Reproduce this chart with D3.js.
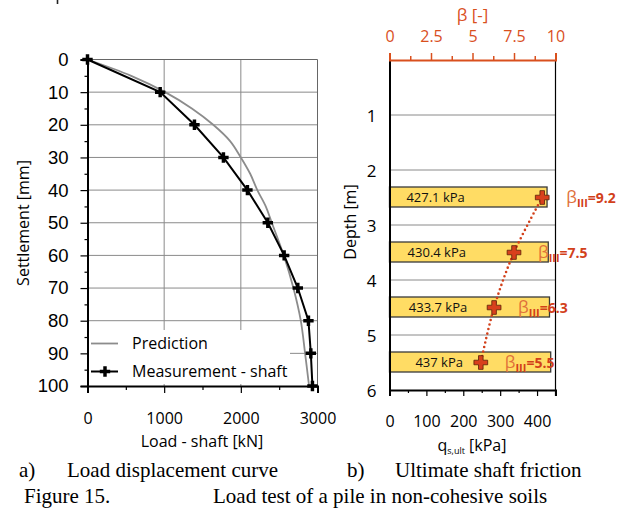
<!DOCTYPE html>
<html><head><meta charset="utf-8">
<script src="https://cdn.jsdelivr.net/npm/d3@7"></script>
<style>
html,body{margin:0;padding:0;background:#fff;}
svg{display:block;}
</style></head>
<body>
<svg id="c" width="630" height="512"></svg>
<script>
// ---------- DATA ----------
const settlementLevels = [0,10,20,30,40,50,60,70,80,90,100];
const measuredLoad = [0,948,1395,1773,2086,2352,2565,2743,2882,2913,2934];
const predSettlement = [0,5,10,15,20,25,30,35,40,45,50,60,70,80,90,100];
const predLoad = [0,570,1013,1361,1640,1860,2000,2122,2215,2325,2404,2560,2686,2782,2838,2890];
const loadTicks = [0,1000,2000,3000];
const settlementTicks = [0,10,20,30,40,50,60,70,80,90,100];

const layerDepths = [2.5,3.5,4.5,5.5];
const qsUlt = [427.1,430.4,433.7,437];
const qsLabels = ["427.1 kPa","430.4 kPa","433.7 kPa","437 kPa"];
const betaIII = [9.2,7.5,6.3,5.5];
const betaLabels = ["=9.2","=7.5","=6.3","=5.5"];
const depthTicks = [1,2,3,4,5,6];
const qTicks = [0,100,200,300,400];
const betaTicks = [0,2.5,5,7.5,10];

// ---------- SETUP ----------
const svg = d3.select("#c");
const sans = "'Open Sans', sans-serif";
const arial = "'Liberation Sans', Arial, sans-serif";
const serif = "'Liberation Serif', 'Times New Roman', serif";
const orange = "#d9501e";
const red = "#d2401a";

// tiny remnant (descender) of the previous text line, cut by the frame
svg.append("line").attr("x1",57.5).attr("x2",57.5).attr("y1",0).attr("y2",4).attr("stroke","#222").attr("stroke-width",1.6);

// ---------- LEFT CHART ----------
const xL = d3.scaleLinear().domain([0,3000]).range([87.5,317.5]);
const yL = d3.scaleLinear().domain([0,100]).range([59.5,386]);
const gL = svg.append("g");

gL.selectAll(".hg").data(settlementTicks.filter(d=>d>0&&d<100)).join("line")
  .attr("x1",xL(0)).attr("x2",xL(3000)).attr("y1",d=>yL(d)).attr("y2",d=>yL(d))
  .attr("stroke","#8a8a8a").attr("stroke-width",1);
gL.selectAll(".vg").data([1000,2000]).join("line")
  .attr("x1",d=>xL(d)).attr("x2",d=>xL(d)).attr("y1",yL(0)).attr("y2",yL(100))
  .attr("stroke","#8a8a8a").attr("stroke-width",1);
gL.append("line").attr("x1",xL(0)).attr("x2",xL(3000)).attr("y1",yL(0)).attr("y2",yL(0)).attr("stroke","#666");
gL.append("line").attr("x1",xL(3000)).attr("x2",xL(3000)).attr("y1",yL(0)).attr("y2",yL(100)).attr("stroke","#666");

gL.append("rect").attr("x",89).attr("y",330).attr("width",201).attr("height",54).attr("fill","#fff");

const yAxisL = d3.axisLeft(yL).tickValues(settlementTicks).tickSize(7).tickFormat(d3.format("d"));
const ya = gL.append("g").attr("transform",`translate(${xL(0)},0)`).call(yAxisL);
ya.select(".domain").attr("stroke","#000").attr("stroke-width",2);
ya.selectAll(".tick line").attr("stroke","#000").attr("stroke-width",1.2);
ya.selectAll(".tick text").attr("font-family",arial).attr("font-size",18.5).attr("fill","#000").attr("x",-19);
gL.append("g").attr("transform",`translate(${xL(0)},0)`)
  .call(d3.axisLeft(yL).tickValues(d3.range(5,100,10)).tickSize(3).tickFormat(""))
  .call(g=>{g.select(".domain").remove(); g.selectAll("line").attr("stroke","#000").attr("stroke-width",1.2);});

const xAxisL = d3.axisBottom(xL).tickValues(loadTicks).tickSize(7).tickFormat(d3.format("d"));
const xa = gL.append("g").attr("transform",`translate(0,${yL(100)})`).call(xAxisL);
xa.select(".domain").attr("stroke","#000").attr("stroke-width",2);
xa.selectAll(".tick line").attr("stroke","#000").attr("stroke-width",1.2);
xa.selectAll(".tick text").attr("font-family",sans).attr("font-size",16).attr("fill","#000").attr("y",27);
gL.append("g").attr("transform",`translate(0,${yL(100)})`)
  .call(d3.axisBottom(xL).tickValues([500,1500,2500]).tickSize(4).tickFormat(""))
  .call(g=>{g.select(".domain").remove(); g.selectAll("line").attr("stroke","#000").attr("stroke-width",1.2);});

const predLine = d3.line().x((d,i)=>xL(predLoad[i])).y(d=>yL(d)).curve(d3.curveCatmullRom);
gL.append("path").datum(predSettlement).attr("d",predLine).attr("fill","none")
  .attr("stroke","#8c8c8c").attr("stroke-width",1.8);

const measLine = d3.line().x((d,i)=>xL(measuredLoad[i])).y(d=>yL(d));
gL.append("path").datum(settlementLevels).attr("d",measLine).attr("fill","none")
  .attr("stroke","#000").attr("stroke-width",2);
const crossSmall = d3.symbol().type(d3.symbolCross).size(60);
gL.selectAll(".mk").data(settlementLevels).join("path")
  .attr("transform",(d,i)=>`translate(${xL(measuredLoad[i])},${yL(d)})`)
  .attr("d",crossSmall).attr("fill","#000");

gL.append("line").attr("x1",91).attr("x2",118).attr("y1",343.5).attr("y2",343.5).attr("stroke","#8c8c8c").attr("stroke-width",1.8);
gL.append("text").attr("x",132).attr("y",349).attr("font-family",sans).attr("font-size",16).text("Prediction");
gL.append("line").attr("x1",91).attr("x2",118).attr("y1",371.5).attr("y2",371.5).attr("stroke","#000").attr("stroke-width",2);
gL.append("path").attr("transform","translate(105,371.5)").attr("d",crossSmall).attr("fill","#000");
gL.append("text").attr("x",132).attr("y",377).attr("font-family",sans).attr("font-size",16).text("Measurement - shaft");

gL.append("text").attr("x",202).attr("y",447).attr("text-anchor","middle").attr("font-family",sans).attr("font-size",16).text("Load - shaft [kN]");
gL.append("text").attr("transform","translate(29,223) rotate(-90)").attr("text-anchor","middle").attr("font-family",sans).attr("font-size",16).text("Settlement [mm]");

// ---------- RIGHT CHART ----------
const xQ = d3.scaleLinear().domain([0,450]).range([389.5,555.5]);
const xB = d3.scaleLinear().domain([0,10]).range([389.5,555.5]);
const yD = d3.scaleLinear().domain([0,6]).range([60,390]);
const gR = svg.append("g");

gR.selectAll(".hg").data(depthTicks.filter(d=>d<6)).join("line")
  .attr("x1",xQ(0)).attr("x2",xQ(450)).attr("y1",d=>yD(d)).attr("y2",d=>yD(d))
  .attr("stroke","#8a8a8a").attr("stroke-width",1);
gR.append("line").attr("x1",xQ(450)).attr("x2",xQ(450)).attr("y1",yD(0)).attr("y2",yD(6)).attr("stroke","#000").attr("stroke-width",1.2);

gR.selectAll(".bar").data(layerDepths).join("rect")
  .attr("x",xQ(0)).attr("y",d=>yD(d)-10.5).attr("width",(d,i)=>xQ(qsUlt[i])-xQ(0)).attr("height",20)
  .attr("fill","#ffdc64").attr("stroke","#3a3a3a").attr("stroke-width",1.3);
gR.selectAll(".bl").data(layerDepths).join("text")
  .attr("x",(d,i)=>xQ(125)+i*1.2).attr("y",d=>yD(d)+4.5).attr("text-anchor","middle")
  .attr("font-family",sans).attr("font-size",13).attr("fill","#111").text((d,i)=>qsLabels[i]);

const yAxisR = d3.axisLeft(yD).tickValues(depthTicks).tickSize(0).tickFormat(d3.format("d"));
const yr = gR.append("g").attr("transform",`translate(${xQ(0)},0)`).call(yAxisR);
yr.select(".domain").attr("stroke","#000").attr("stroke-width",2);
yr.selectAll(".tick text").attr("font-family",sans).attr("font-size",17).attr("fill","#000").attr("x",-13).attr("dy","0.4em");

const xAxisR = d3.axisBottom(xQ).tickValues(qTicks).tickSize(6).tickFormat(d3.format("d"));
const xr = gR.append("g").attr("transform",`translate(0,${yD(6)})`).call(xAxisR);
xr.select(".domain").attr("stroke","#000").attr("stroke-width",2);
xr.selectAll(".tick line").attr("stroke","#000").attr("stroke-width",1.2);
xr.selectAll(".tick text").attr("font-family",sans).attr("font-size",16).attr("fill","#000").attr("y",26);
gR.append("g").attr("transform",`translate(0,${yD(6)})`)
  .call(d3.axisBottom(xQ).tickValues([50,150,250,350]).tickSize(3).tickFormat(""))
  .call(g=>{g.select(".domain").remove(); g.selectAll("line").attr("stroke","#000").attr("stroke-width",1.2);});
gR.append("line").attr("x1",xQ(450)).attr("x2",xQ(450)).attr("y1",yD(6)).attr("y2",yD(6)+6).attr("stroke","#000").attr("stroke-width",1.2);

const xAxisB = d3.axisTop(xB).tickValues(betaTicks).tickSize(7).tickFormat(d=>d);
const xb = gR.append("g").attr("transform",`translate(0,${yD(0)})`).call(xAxisB);
xb.select(".domain").attr("stroke",orange).attr("stroke-width",2);
xb.selectAll(".tick line").attr("stroke",orange).attr("stroke-width",1.5);
xb.selectAll(".tick text").attr("font-family",sans).attr("font-size",16).attr("fill",orange).attr("y",-18);
gR.append("g").attr("transform",`translate(0,${yD(0)})`)
  .call(d3.axisTop(xB).tickValues([1.25,3.75,6.25,8.75]).tickSize(4).tickFormat(""))
  .call(g=>{g.select(".domain").remove(); g.selectAll("line").attr("stroke",orange).attr("stroke-width",1.5);});
gR.append("text").attr("x",xB(5)).attr("y",21).attr("text-anchor","middle").attr("font-family",sans).attr("font-size",17).attr("fill",orange).text("β [-]");

const trend = d3.line().x((d,i)=>xB(betaIII[i])).y(d=>yD(d)).curve(d3.curveCatmullRom);
gR.append("path").datum(layerDepths).attr("d",trend).attr("fill","none")
  .attr("stroke",red).attr("stroke-width",2.6).attr("stroke-linecap","round").attr("stroke-dasharray","0 4.6");

const crossBig = d3.symbol().type(d3.symbolCross).size(105);
gR.selectAll(".bm").data(layerDepths).join("path")
  .attr("transform",(d,i)=>`translate(${xB(betaIII[i])},${yD(d)})`)
  .attr("d",crossBig).attr("fill","#d8401c").attr("stroke","#5a2008").attr("stroke-width",0.8);

const lab = gR.selectAll(".blab").data(layerDepths).join("text")
  .attr("x",(d,i)=>xB(betaIII[i])+24).attr("y",d=>yD(d)+5)
  .attr("font-family",sans).attr("fill",red);
lab.append("tspan").attr("font-size",17).attr("fill","#e0703a").text("β");
lab.append("tspan").attr("font-size",11).attr("font-weight","bold").attr("dy",4).text("III");
lab.append("tspan").attr("font-size",14).attr("font-weight","bold").attr("dy",-4).text((d,i)=>betaLabels[i]);

const qt = gR.append("text").attr("x",472).attr("y",451).attr("text-anchor","middle").attr("font-family",sans).attr("font-size",16);
qt.append("tspan").text("q");
qt.append("tspan").attr("font-size",9).attr("dy",3).text("s,ult");
qt.append("tspan").attr("dy",-3).text(" [kPa]");
gR.append("text").attr("transform","translate(356,222) rotate(-90)").attr("text-anchor","middle").attr("font-family",sans).attr("font-size",16).text("Depth [m]");

// ---------- CAPTIONS ----------
const cap = svg.append("g").attr("font-family",serif).attr("font-size",21).attr("fill","#000");
cap.append("text").attr("x",19).attr("y",477).text("a)");
cap.append("text").attr("x",67).attr("y",477).text("Load displacement curve");
cap.append("text").attr("x",347).attr("y",477).text("b)");
cap.append("text").attr("x",395).attr("y",477).text("Ultimate shaft friction");
cap.append("text").attr("x",24).attr("y",503).text("Figure 15.");
cap.append("text").attr("x",213).attr("y",503).text("Load test of a pile in non-cohesive soils");
</script>
</body></html>
